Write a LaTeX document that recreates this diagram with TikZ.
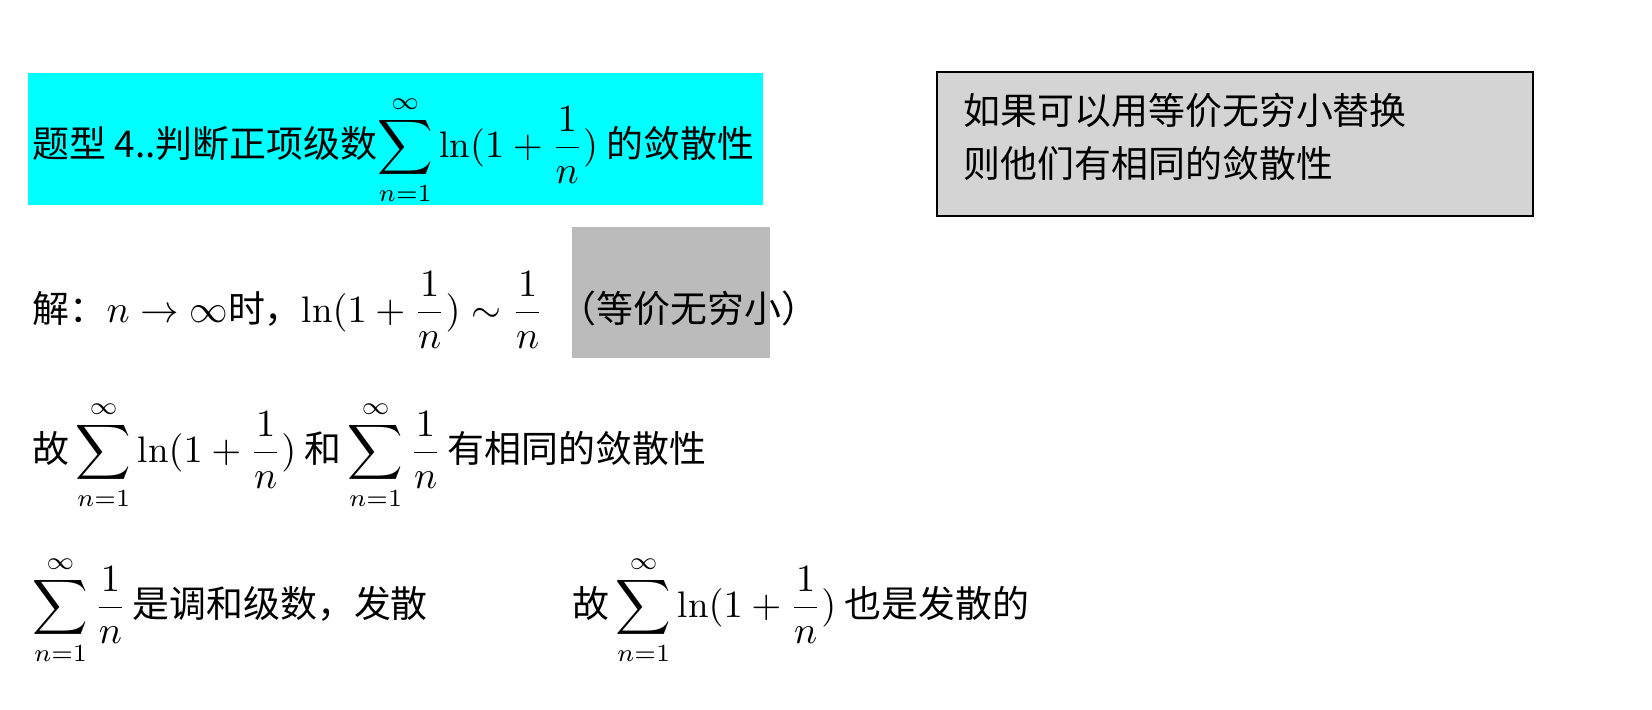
\documentclass[tikz,border=0pt]{standalone}
\usepackage{fontspec}
\usepackage{amsmath}
\newfontfamily\cjk{Noto Sans CJK SC}
\definecolor{cy}{RGB}{0,255,255}
\definecolor{hl}{RGB}{187,187,187}
\definecolor{bx}{RGB}{212,212,212}
\begin{document}
\begin{tikzpicture}[x=0.01cm,y=-0.01cm,
  txt/.style={anchor=west,inner sep=0pt,font=\fontsize{10.5}{13}\selectfont}]
\useasboundingbox (0,0) rectangle (1652,710);
\fill[cy] (28,73) rectangle (763,205);
\fill[hl] (572,227) rectangle (770,358);
\draw[fill=bx,line width=0.8pt] (937,72) rectangle (1533,216);
\node[txt] (t1) at (32,150) {\cjk 题型 4..判断正项级数$\displaystyle\sum_{n=1}^{\infty}\ln(1+\frac{1}{n})$ 的敛散性};
\node[txt,align=left] (t2) at (963,137) {\cjk 如果可以用等价无穷小替换\\[2pt]\cjk 则他们有相同的敛散性};
\node[txt] (t3) at (32,310) {\cjk 解：$n\to\infty$时，$\displaystyle\ln(1+\frac{1}{n})\sim\frac{1}{n}$\ \ （等价无穷小）};
\node[txt] (t4) at (32,455) {\cjk 故\,$\displaystyle\sum_{n=1}^{\infty}\ln(1+\frac{1}{n})$ 和\,$\displaystyle\sum_{n=1}^{\infty}\frac{1}{n}$\,有相同的敛散性};
\node[txt] (t5) at (32,610) {\cjk $\displaystyle\sum_{n=1}^{\infty}\frac{1}{n}$\,是调和级数，发散};
\node[txt] (t6) at (572,610) {\cjk 故\,$\displaystyle\sum_{n=1}^{\infty}\ln(1+\frac{1}{n})$ 也是发散的};
\end{tikzpicture}
\end{document}
